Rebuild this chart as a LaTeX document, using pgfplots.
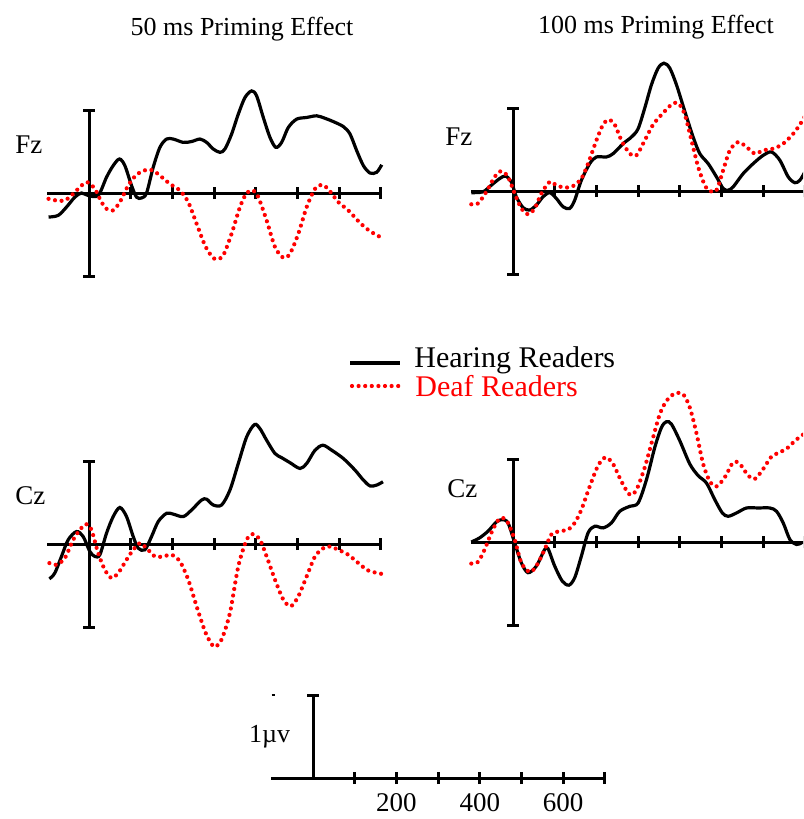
\documentclass[border=0pt]{standalone}
\usepackage{fontspec}
\setmainfont{Liberation Serif}
\usepackage{pgfplots}
\pgfplotsset{compat=1.18}

\definecolor{deaf}{RGB}{255,0,0}

\pgfplotsset{
  erp/.style={
    anchor=origin,
    x=0.2085pt, y=41.5pt,
    xmin=-100, xmax=700, ymin=-1, ymax=1,
    axis lines=middle,
    axis line style={line width=1.5pt, -},
    xtick={100,200,...,700}, ytick={-1,1},
    xticklabels={}, yticklabels={},
    tick align=center, major tick length=6pt,
    tick style={line width=1.5pt, black},
    clip=false,
  },
  hearing/.style={black, line width=1.6pt, smooth, tension=0.5},
  deafline/.style={deaf, line width=2.1pt, line cap=round, dash pattern=on 0pt off 3.3pt, smooth, tension=0.5},
}

\begin{document}
\begin{tikzpicture}
\path[use as bounding box, clip] (0,0) rectangle (401.5pt,-409.5pt);

% titles and electrode labels
\node[anchor=base, font=\fontsize{13}{15}\selectfont] at (121pt,-17.5pt) {50 ms Priming Effect};
\node[anchor=base, font=\fontsize{13}{15}\selectfont] at (328pt,-16.5pt) {100 ms Priming Effect};
\node[anchor=base west, inner sep=0pt, font=\fontsize{13.5}{15}\selectfont] at (7.5pt,-76.5pt) {Fz};
\node[anchor=base west, inner sep=0pt, font=\fontsize{13.5}{15}\selectfont] at (222.5pt,-72.5pt) {Fz};
\node[anchor=base west, inner sep=0pt, font=\fontsize{13.5}{15}\selectfont] at (7.5pt,-252pt) {Cz};
\node[anchor=base west, inner sep=0pt, font=\fontsize{13.5}{15}\selectfont] at (223.5pt,-248.5pt) {Cz};

% Fz, 50 ms
\begin{axis}[erp, at={(44.5pt,-96.5pt)}]
\addplot[hearing] coordinates {
(-97,-0.29) (-74,-0.27) (-54,-0.17) (-34,-0.05) (-18,0) (-2,-0.03) (22,-0.03)
(42,0.19) (58,0.33) (73,0.41) (86,0.33) (102,0.09) (114,-0.05) (126,-0.06)
(138,0) (154,0.31) (170,0.55) (186,0.65) (202,0.65) (226,0.61) (246,0.62)
(266,0.65) (282,0.61) (298,0.53) (314,0.49) (326,0.53) (342,0.71) (358,0.95)
(374,1.15) (390,1.23) (402,1.17) (418,0.91) (434,0.67) (448,0.55) (462,0.61)
(478,0.79) (498,0.89) (522,0.91) (546,0.93) (566,0.90) (586,0.86) (610,0.80)
(626,0.71) (642,0.51) (658,0.33) (674,0.24) (690,0.25) (702,0.34)
};
\addplot[deafline] coordinates {
(-97,-0.07) (-78,-0.09) (-58,-0.09) (-38,-0.01) (-18,0.09) (-4,0.13) (14,0.05)
(30,-0.11) (42,-0.19) (57,-0.21) (74,-0.11) (94,0.09) (114,0.22) (138,0.28)
(154,0.27) (170,0.21) (194,0.11) (218,0.03) (238,-0.11) (258,-0.37) (278,-0.63)
(294,-0.76) (306,-0.80) (322,-0.75) (342,-0.49) (362,-0.17) (378,0) (394,0.03)
(406,-0.05) (426,-0.33) (446,-0.65) (466,-0.78) (482,-0.73) (502,-0.49)
(522,-0.17) (542,0.05) (560,0.10) (578,0.02) (598,-0.11) (622,-0.21)
(650,-0.36) (674,-0.46) (702,-0.54)
};
\end{axis}

% Fz, 100 ms
\begin{axis}[erp, at={(256.5pt,-95.5pt)}]
\addplot[hearing] coordinates {
(-100,-0.02) (-72,-0.01) (-52,0.07) (-32,0.15) (-18,0.18) (-4,0.11) (8,-0.07)
(24,-0.20) (40,-0.23) (56,-0.17) (72,-0.07) (88,-0.02) (104,-0.09) (120,-0.19)
(136,-0.21) (148,-0.11) (164,0.13) (184,0.33) (200,0.41) (224,0.41) (240,0.45)
(264,0.57) (284,0.65) (300,0.75) (316,1.00) (332,1.28) (348,1.48) (362,1.54)
(376,1.48) (392,1.28) (412,0.96) (432,0.65) (448,0.45) (468,0.33) (488,0.17)
(504,0.03) (516,0.01) (528,0.05) (552,0.21) (576,0.33) (600,0.43) (620,0.47)
(640,0.37) (660,0.17) (676,0.10) (688,0.13) (700,0.23)
};
\addplot[deafline] coordinates {
(-100,-0.16) (-84,-0.15) (-64,-0.01) (-44,0.17) (-28,0.24) (-12,0.17) (4,-0.03)
(20,-0.21) (36,-0.28) (52,-0.21) (68,-0.03) (88,0.11) (104,0.07) (124,0.04)
(144,0.06) (164,0.15) (180,0.33) (200,0.61) (216,0.80) (230,0.86) (244,0.80)
(260,0.61) (280,0.45) (296,0.43) (316,0.61) (336,0.80) (360,0.94) (380,1.04)
(396,1.06) (412,0.92) (428,0.61) (444,0.29) (460,0.07) (472,0) (488,0.01)
(504,0.25) (520,0.49) (540,0.59) (560,0.53) (580,0.45) (600,0.49) (624,0.51)
(648,0.57) (672,0.69) (688,0.80) (700,0.90)
};
\end{axis}

% Cz, 50 ms
\begin{axis}[erp, at={(44.5pt,-272pt)}]
\addplot[hearing] coordinates {
(-95,-0.42) (-82,-0.35) (-66,-0.15) (-50,0.05) (-30,0.15) (-14,0.09) (2,-0.09)
(14,-0.15) (26,-0.13) (42,0.13) (58,0.33) (74,0.44) (90,0.33) (106,0.09)
(118,-0.05) (134,-0.07) (150,0.09) (166,0.27) (186,0.37) (202,0.36) (226,0.33)
(246,0.41) (270,0.53) (282,0.54) (298,0.47) (318,0.47) (338,0.65) (358,0.97)
(378,1.29) (397,1.44) (410,1.39) (426,1.25) (446,1.09) (462,1.04) (482,0.98)
(506,0.91) (522,0.97) (542,1.13) (561,1.19) (582,1.13) (610,1.03) (638,0.89)
(658,0.77) (674,0.70) (690,0.71) (705,0.75)
};
\addplot[deafline] coordinates {
(-95,-0.23) (-78,-0.25) (-58,-0.17) (-38,0.05) (-22,0.17) (-7,0.24) (6,0.17)
(22,-0.11) (38,-0.31) (54,-0.41) (70,-0.35) (90,-0.19) (106,-0.07) (122,0.01)
(138,-0.05) (158,-0.15) (178,-0.15) (198,-0.13) (218,-0.21) (238,-0.43)
(258,-0.75) (278,-1.05) (292,-1.19) (302,-1.24) (318,-1.15) (338,-0.83)
(358,-0.27) (378,0.05) (393,0.12) (410,0.05) (426,-0.15) (446,-0.43)
(466,-0.67) (484,-0.75) (502,-0.63) (522,-0.39) (542,-0.15) (562,-0.05)
(578,-0.03) (598,-0.07) (622,-0.13) (646,-0.23) (670,-0.32) (702,-0.36)
};
\end{axis}

% Cz, 100 ms
\begin{axis}[erp, at={(256.5pt,-271pt)}]
\addplot[hearing] coordinates {
(-100,0) (-80,0.05) (-60,0.13) (-40,0.24) (-26,0.27) (-12,0.23) (4,-0.01)
(20,-0.25) (36,-0.37) (56,-0.29) (76,-0.09) (84,-0.08) (100,-0.29) (118,-0.47)
(134,-0.52) (148,-0.43) (164,-0.17) (180,0.11) (196,0.19) (216,0.17) (236,0.23)
(256,0.37) (280,0.43) (300,0.47) (320,0.75) (340,1.14) (356,1.38) (368,1.45)
(380,1.42) (400,1.22) (424,0.94) (444,0.80) (464,0.71) (484,0.51) (502,0.35)
(516,0.31) (536,0.35) (560,0.41) (588,0.41) (616,0.41) (632,0.37) (648,0.23)
(664,0.03) (680,-0.03) (692,-0.01)
};
\addplot[deafline] coordinates {
(-100,-0.26) (-84,-0.24) (-68,-0.09) (-52,0.11) (-36,0.26) (-24,0.29) (-12,0.23)
(4,0.03) (20,-0.25) (40,-0.36) (56,-0.29) (76,-0.09) (92,0.09) (112,0.13)
(132,0.15) (148,0.23) (164,0.39) (184,0.67) (204,0.92) (222,1.02) (240,0.94)
(260,0.73) (280,0.57) (296,0.63) (316,0.90) (336,1.26) (352,1.54) (368,1.70)
(388,1.79) (408,1.78) (424,1.62) (440,1.31) (456,0.94) (472,0.73) (488,0.67)
(508,0.78) (528,0.96) (544,0.94) (564,0.80) (580,0.76) (600,0.88) (620,1.03)
(640,1.08) (660,1.14) (676,1.22) (692,1.28) (700,1.31)
};
\end{axis}

% legend
\draw[black, line width=1.6pt] (175pt,-181.5pt) -- (200pt,-181.5pt);
\node[anchor=base west, inner sep=0pt, font=\fontsize{15}{17}\selectfont] at (207pt,-183.5pt) {Hearing Readers};
\draw[deaf, line width=2.1pt, line cap=round, dash pattern=on 0pt off 3.3pt] (176pt,-193pt) -- (200pt,-193pt);
\node[anchor=base west, inner sep=0pt, text=deaf, font=\fontsize{15}{17}\selectfont] at (207.5pt,-198.3pt) {Deaf Readers};

% scale bar
\begin{axis}[erp, at={(156.5pt,-389pt)}, ymin=0, ymax=1, ytick={1},
  xticklabels={{},200,{},400,{},600,{}},
  xticklabel style={font=\fontsize{13.5}{15}\selectfont, yshift=-1pt}]
\addplot[black, line width=1.2pt] coordinates {(-99,1) (-91,1)};
\node[anchor=base, font=\fontsize{13}{15}\selectfont] at (axis cs:-104,0.43) {1\textmu v};
\end{axis}
\end{tikzpicture}
\end{document}
